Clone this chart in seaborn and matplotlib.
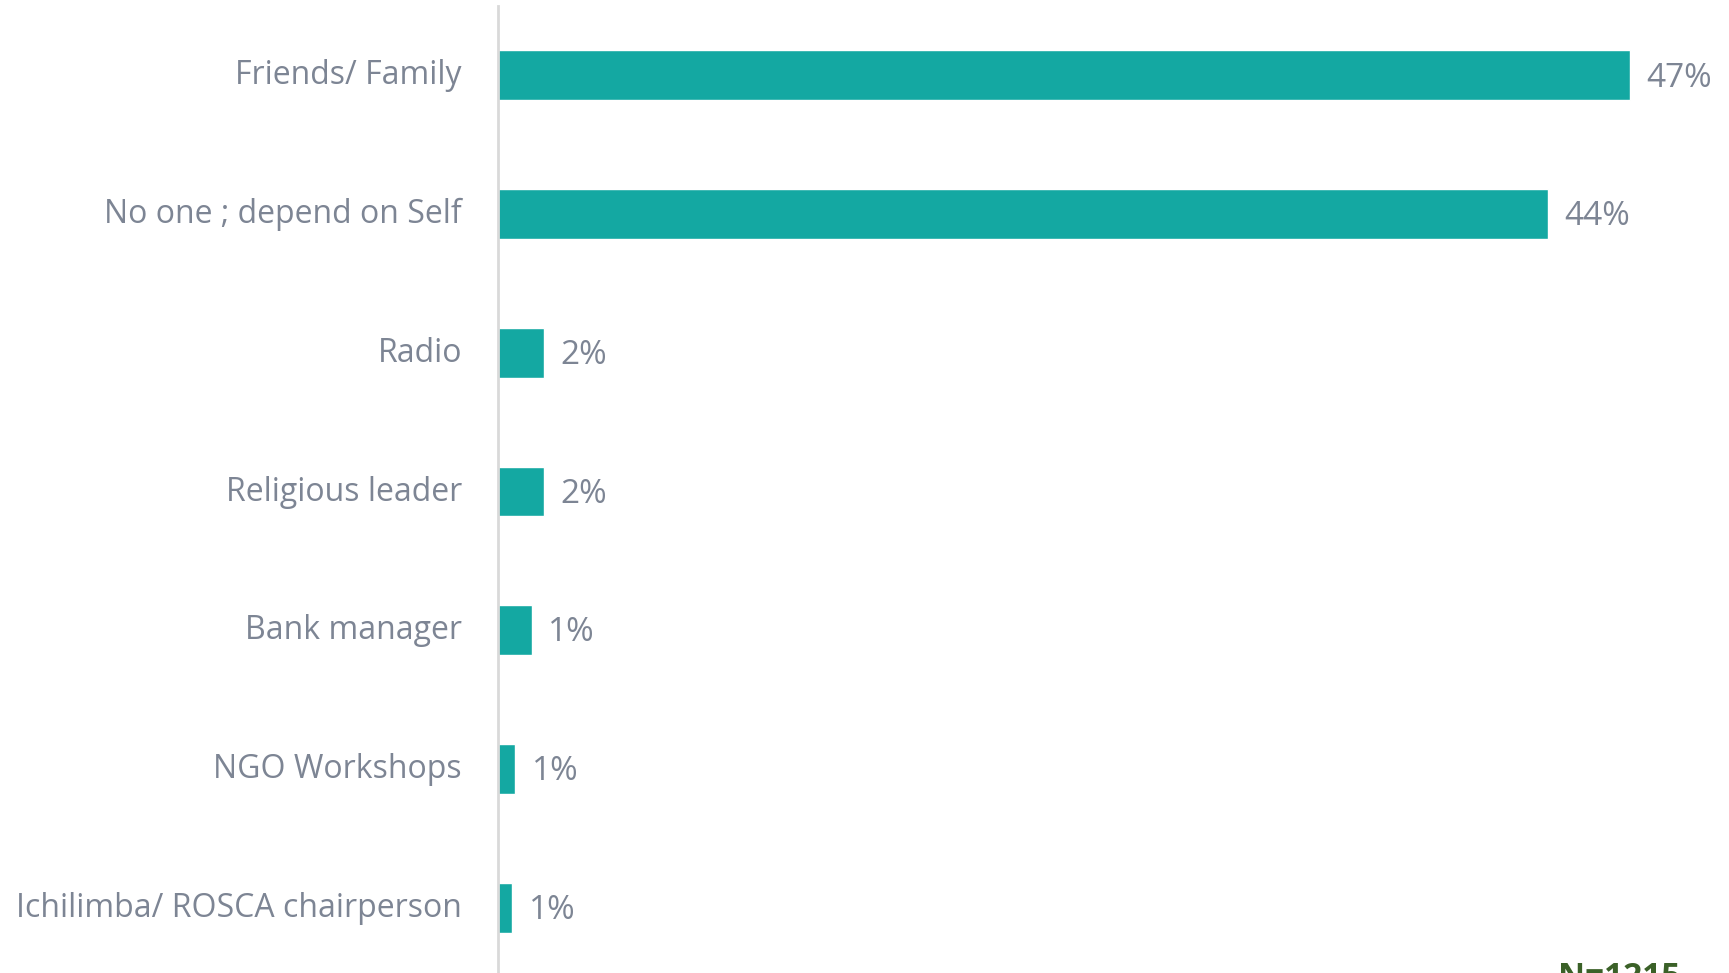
import matplotlib
matplotlib.use("Agg")
import matplotlib.pyplot as plt
import matplotlib.transforms as mtransforms
import seaborn as sns
import pandas as pd

categories = ["Friends/ Family", "No one ; depend on Self", "Radio", "Religious leader",
              "Bank manager", "NGO Workshops", "Ichilimba/ ROSCA chairperson"]
values = [47.0, 43.6, 1.9, 1.9, 1.4, 0.7, 0.6]
value_labels = ["47%", "44%", "2%", "2%", "1%", "1%", "1%"]
note_text = "N=1215"

sns.set_theme(style="white")
plt.rcParams["font.family"] = ["Open Sans", "DejaVu Sans"]

BAR = "#14A8A2"
TXT = "#7D8594"

df = pd.DataFrame({"source": categories, "share": values})

W, H, DPI = 1729, 973, 100
fig = plt.figure(figsize=(W / DPI, H / DPI), dpi=DPI)
ax = fig.add_axes([498 / W, -4 / H, 1 - 498 / W, 971 / H])

sns.barplot(data=df, y="source", x="share", orient="h", color=BAR,
            width=0.36, saturation=1, ax=ax)

ax.set_xlim(0, (W - 498) / 24.08)
ax.set_ylim(6.5, -0.5)
ax.set_xlabel("")
ax.set_ylabel("")
ax.set_xticks([])
for s in ["top", "right", "bottom"]:
    ax.spines[s].set_visible(False)
ax.spines["left"].set_color("#D9D9D9")
ax.spines["left"].set_linewidth(2)
ax.tick_params(axis="y", length=0, pad=26, labelsize=23, labelcolor=TXT)

shift = mtransforms.ScaledTranslation(0, 2.5 / 72, fig.dpi_scale_trans)
for lab in ax.get_yticklabels():
    lab.set_transform(lab.get_transform() + shift)

for patch, lab in zip(ax.containers[0], value_labels):
    ax.annotate(lab, (patch.get_width(), patch.get_y() + patch.get_height() / 2),
                xytext=(12, -2), textcoords="offset points",
                ha="left", va="center", fontsize=24, color=TXT)

fig.text(1558 / W, (H - 961) / H, note_text, ha="left", va="top",
         fontsize=24, fontweight="bold", color="#3B6128")

fig.savefig("out.png", dpi=DPI)
